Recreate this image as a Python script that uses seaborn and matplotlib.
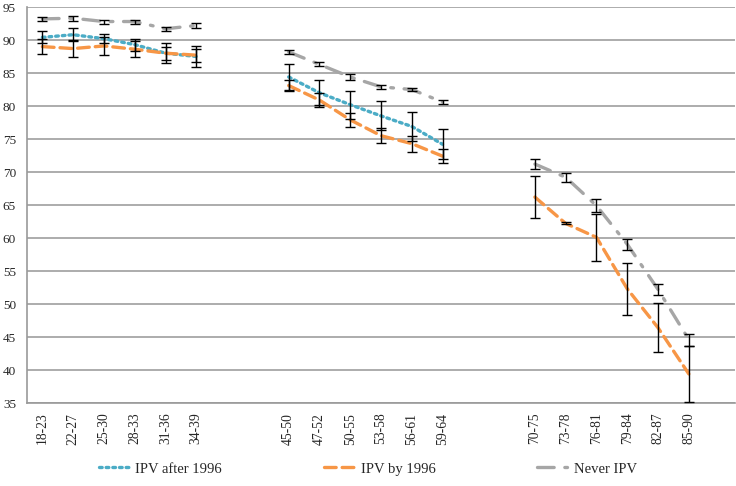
import numpy as np
import pandas as pd
import matplotlib
matplotlib.use('Agg')
import matplotlib.pyplot as plt
from matplotlib.lines import Line2D
import seaborn as sns

sns.set_theme(style='white')
plt.rcParams['font.family'] = ['Liberation Serif', 'DejaVu Serif']

nan = np.nan

# Age bands (blank slots are the gaps between the three cohorts)
categories = ['18-23', '22-27', '25-30', '28-33', '31-36', '34-39', '', '',
              '45-50', '47-52', '50-55', '53-58', '56-61', '59-64', '', '',
              '70-75', '73-78', '76-81', '79-84', '82-87', '85-90', '']

after_1996 = [90.4, 90.8, 90.2, 89.3, 88.0, 87.5, nan, nan,
              84.4, 82.0, 80.2, 78.5, 76.9, 74.2, nan, nan,
              nan, nan, nan, nan, nan, nan, nan]
after_1996_err = [0.9, 0.95, 0.7, 0.9, 1.5, 1.6, nan, nan,
                  2.0, 1.9, 2.1, 2.2, 2.2, 2.3, nan, nan,
                  nan, nan, nan, nan, nan, nan, nan]

by_1996 = [89.0, 88.7, 89.1, 88.6, 88.0, 87.7, nan, nan,
           83.1, 80.9, 77.9, 75.5, 74.3, 72.4, nan, nan,
           66.2, 62.2, 60.1, 52.3, 46.4, 39.4, nan]
by_1996_err = [1.1, 1.3, 1.4, 1.2, 1.0, 1.0, nan, nan,
               0.9, 1.0, 1.1, 1.1, 1.2, 1.1, nan, nan,
               3.2, 0.15, 3.6, 3.9, 3.7, 4.2, nan]

never = [93.2, 93.3, 92.8, 92.8, 91.7, 92.2, nan, nan,
         88.2, 86.3, 84.4, 82.9, 82.5, 80.6, nan, nan,
         71.2, 69.2, 64.9, 59.05, 52.2, 44.6, nan]
never_err = [0.3, 0.35, 0.3, 0.3, 0.3, 0.35, nan, nan,
             0.35, 0.3, 0.4, 0.3, 0.3, 0.35, nan, nan,
             0.7, 0.65, 0.95, 0.85, 0.9, 0.9, nan]

series_names = ['IPV after 1996', 'IPV by 1996', 'Never IPV']
series_vals = [after_1996, by_1996, never]
series_errs = [after_1996_err, by_1996_err, never_err]
colors = {'IPV after 1996': '#4BACC6', 'IPV by 1996': '#F79646', 'Never IPV': '#A6A6A6'}
dashes = {'IPV after 1996': (0.8, 1.2), 'IPV by 1996': (3.5, 1.8), 'Never IPV': (5.0, 3.2, 0.8, 3.2)}

# long-form table; block id splits the lines at the gaps
rows = []
block = 0
blocks = []
for i, c in enumerate(categories):
    if c == '' and (i == 0 or categories[i - 1] != ''):
        block += 1
    blocks.append(block)
for name, vals, errs in zip(series_names, series_vals, series_errs):
    for i, (v, e) in enumerate(zip(vals, errs)):
        rows.append({'pos': i, 'value': v, 'err': e, 'series': name, 'block': blocks[i]})
df = pd.DataFrame(rows).dropna(subset=['value'])

fig = plt.figure(figsize=(7.36, 4.86), dpi=100)
ax = fig.add_axes([27 / 736, 1 - 403 / 486, 708 / 736, 396 / 486])

sns.lineplot(data=df, x='pos', y='value', hue='series', style='series', units='block',
             estimator=None, palette=colors, dashes=dashes, linewidth=2.4,
             legend=False, ax=ax, sort=False)
for ln in ax.lines:
    ln.set_dash_capstyle('round')

for name in series_names:
    sub = df[df['series'] == name]
    ax.errorbar(sub['pos'], sub['value'], yerr=sub['err'], fmt='none',
                ecolor='black', elinewidth=1.0, capsize=3.5, capthick=1.0, zorder=5)

ax.set_xlim(-0.5, len(categories) - 0.5)
ax.set_ylim(35, 95)
ax.set_yticks(range(35, 96, 5))
ax.set_xticks(range(len(categories)))
ax.set_xticklabels(categories, rotation=90, fontsize=9.8)
ax.set_xticks(np.arange(-0.5, len(categories), 1), minor=True)
ax.tick_params(axis='x', which='major', length=0, pad=7)
ax.tick_params(axis='x', which='minor', length=5, width=1, color='#999999', direction='out')
ax.tick_params(axis='y', length=4, width=1, color='#999999', direction='out', labelsize=9.5, pad=4)
ax.set_xlabel('')
ax.set_ylabel('')
ax.yaxis.grid(True, color='#A6A6A6', linewidth=1.3)
ax.set_axisbelow(True)
for s in ['top', 'right']:
    ax.spines[s].set_visible(False)
for s in ['left', 'bottom']:
    ax.spines[s].set_color('#999999')
    ax.spines[s].set_linewidth(1.2)

handles = [Line2D([0], [0], color=colors[n], linewidth=2.4, dashes=dashes[n],
                  dash_capstyle='round') for n in series_names]
fig.legend(handles, series_names, loc='center', bbox_to_anchor=(0.5, 1 - 469 / 486),
           ncol=3, frameon=False, fontsize=10.5, handlelength=2.2, handletextpad=0.3,
           columnspacing=7.0)

fig.savefig('out.png', dpi=100)
